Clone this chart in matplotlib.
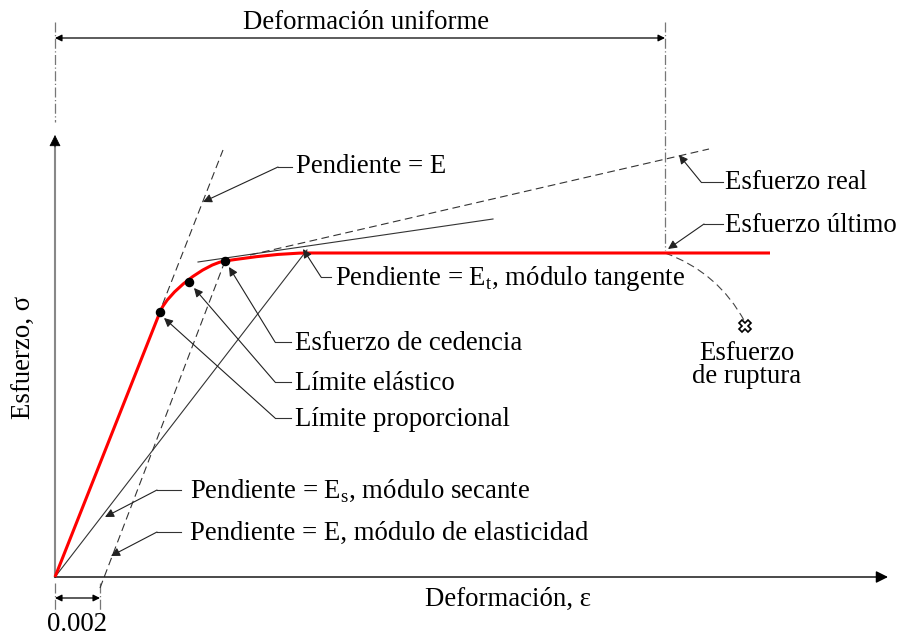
import numpy as np
import matplotlib.pyplot as plt
from matplotlib.path import Path
from matplotlib.patches import PathPatch

plt.rcParams['font.family'] = ['Liberation Serif', 'DejaVu Serif']
plt.rcParams['mathtext.fontset'] = 'custom'
plt.rcParams['mathtext.rm'] = 'Liberation Serif'

# --- esquema (coordenadas del dibujo, y hacia abajo) ---
origin = (55, 577)
x_axis_end = 888
y_axis_end = 135

# curva esfuerzo-deformacion: tramo lineal + codo (2 bezier cubicas) + meseta
linear_end = (160, 312)
knee_a = [(168, 292), (205, 264), (225, 261)]
knee_b = [(252, 257), (282, 253), (310, 253)]
plateau_end = (770, 253)

# puntos notables
point_x = [160, 189, 225]
point_y = [312, 282, 261]

ultimate_x = 665
offset_x = 100  # 0.002

# lineas auxiliares
slope_E = [(158, 316), (223, 150)]
slope_offset = [(100, 588), (225, 261)]
secant = [(55, 577), (307, 250)]
tangent = [(198, 262), (493, 219)]
true_stress = [(250, 255), (709, 149)]
rupture_arc = [(665, 253), (718, 272), (745, 322)]
rupture_pt = (745, 326)

# rotulos: texto, posicion del texto, codo de la guia, punta de flecha
labels = [
    ('Pendiente = E', (296, 173), [(292, 167), (278, 167)], (203, 202)),
    ('Esfuerzo real', (725, 189), [(723, 182), (701, 182)], (679, 155)),
    ('Esfuerzo último', (725, 232), [(723, 224), (704, 224)], (668, 249)),
    (r'Pendiente = E$_\mathregular{t}$, módulo tangente', (335, 285),
     [(331, 277), (321, 277)], (303, 249)),
    ('Esfuerzo de cedencia', (295, 350), [(291, 342), (275, 342)], (229, 267)),
    ('Límite elástico', (295, 390), [(291, 382), (275, 382)], (194, 288)),
    ('Límite proporcional', (295, 426), [(291, 418), (275, 418)], (164, 318)),
    (r'Pendiente = E$_\mathregular{s}$, módulo secante', (190, 497),
     [(181, 490), (157, 490)], (105, 517)),
    ('Pendiente = E, módulo de elasticidad', (190, 540),
     [(181, 532), (157, 532)], (111, 556)),
]

fig = plt.figure(figsize=(8.98, 6.37), dpi=100)
ax = fig.add_axes([0, 0, 1, 1])
ax.set_xlim(0, 898)
ax.set_ylim(637, 0)
ax.axis('off')

fs = 19.3
thin = dict(color='#333333', lw=0.8)

# ejes
ax.plot([origin[0], origin[0]], [origin[1], y_axis_end + 8], color='#888888',
        lw=1.5)
ax.annotate('', xy=(origin[0], y_axis_end), xytext=(origin[0], y_axis_end + 12),
            arrowprops=dict(arrowstyle='-|>', color='black', lw=0.5,
                            mutation_scale=18, shrinkA=0, shrinkB=0))
ax.annotate('', xy=(x_axis_end, origin[1]), xytext=origin,
            arrowprops=dict(arrowstyle='-|>', color='black', lw=1.0,
                            mutation_scale=18, shrinkA=0, shrinkB=0))

# lineas de trazo-punto
dashdot = dict(color='#777777', lw=0.9, ls=(0, (8, 2, 1, 2)))
ax.plot([origin[0], origin[0]], [22, 122], **dashdot)
ax.plot([ultimate_x, ultimate_x], [22, 250], **dashdot)
ax.plot([origin[0], origin[0]], [583, 612], **dashdot)
ax.plot([offset_x, offset_x], [583, 612], **dashdot)

# cotas
dim = dict(arrowstyle='<|-|>', color='black', lw=0.9, mutation_scale=10,
           shrinkA=0, shrinkB=0)
ax.annotate('', xy=(origin[0], 38), xytext=(ultimate_x, 38), arrowprops=dim)
ax.annotate('', xy=(origin[0], 598), xytext=(offset_x, 598), arrowprops=dim)

# lineas auxiliares
dashed = dict(color='#333333', lw=0.8, ls=(0, (7, 4)))
for seg in [slope_E, slope_offset, true_stress]:
    ax.plot([p[0] for p in seg], [p[1] for p in seg], **dashed)
for seg in [secant, tangent]:
    ax.plot([p[0] for p in seg], [p[1] for p in seg], **thin)

arc = Path(rupture_arc, [Path.MOVETO, Path.CURVE3, Path.CURVE3])
ax.add_patch(PathPatch(arc, fc='none', ec='#444444', lw=0.8, ls=(0, (7, 4))))

# curva roja
verts = [origin, linear_end] + knee_a + knee_b + [plateau_end]
codes = [Path.MOVETO, Path.LINETO] + [Path.CURVE4] * 6 + [Path.LINETO]
ax.add_patch(PathPatch(Path(verts, codes), fc='none', ec='#ff0000', lw=2.2,
                       capstyle='butt', joinstyle='round', zorder=3))

ax.scatter(point_x, point_y, s=34, color='black', zorder=4)
ax.plot(*rupture_pt, marker='X', ms=9, mfc='white', mec='black', mew=1.2,
        zorder=4)

# rotulos con guia
for text, tpos, knee, tip in labels:
    ax.text(tpos[0], tpos[1], text, fontsize=fs, ha='left', va='baseline')
    ax.plot([knee[0][0], knee[1][0]], [knee[0][1], knee[1][1]], **thin)
    ax.annotate('', xy=tip, xytext=knee[1],
                arrowprops=dict(arrowstyle='-|>', color='#222222', lw=0.8,
                                mutation_scale=13, shrinkA=0, shrinkB=0))

ax.text(366, 29, 'Deformación uniforme', fontsize=fs, ha='center', va='baseline')
ax.text(747, 360, 'Esfuerzo', fontsize=fs, ha='center', va='baseline')
ax.text(747, 383, 'de ruptura', fontsize=fs, ha='center', va='baseline')
ax.text(508, 606, 'Deformación, ε', fontsize=fs, ha='center', va='baseline')
ax.text(77, 631, '0.002', fontsize=fs, ha='center', va='baseline')
ax.text(24, 357, 'Esfuerzo, σ', fontsize=fs, ha='center', va='center',
        rotation=90)

fig.savefig('out.png', dpi=100)
